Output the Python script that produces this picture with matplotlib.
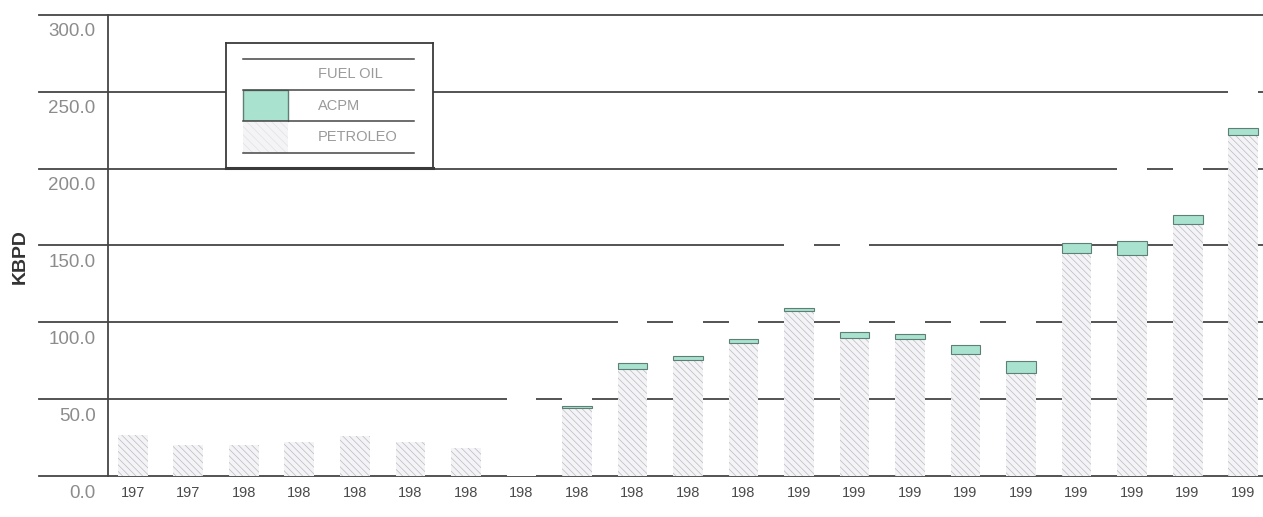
import numpy as np
import matplotlib
matplotlib.use("Agg")
import matplotlib.pyplot as plt
from matplotlib import transforms

plt.rcParams['font.family'] = ['Liberation Sans', 'DejaVu Sans']
plt.rcParams['hatch.linewidth'] = 0.5

# data (KBPD)
years = ['197', '197', '198', '198', '198', '198', '198', '198', '198', '198', '198',
         '198', '199', '199', '199', '199', '199', '199', '199', '199', '199']
petroleo = [27, 20, 20, 22, 26, 22, 18, 0, 44.3, 69.6, 75.5, 86.5, 107.4, 90.0,
            89.0, 79.4, 67.0, 145.1, 143.8, 164.0, 222.0]
acpm = [0, 0, 0, 0, 0, 0, 0, 0, 1.0, 3.9, 2.5, 2.5, 1.9, 3.7, 3.4, 5.8, 7.8,
        6.5, 9.1, 5.8, 4.5]
fuel_oil = [0, 0, 0, 0, 0, 0, 0, 60, 15, 40, 35, 30, 55, 65, 30, 30, 35, 15,
            60, 37, 30]
series_names = ['FUEL OIL', 'ACPM', 'PETROLEO']
yticks = [0, 50, 100, 150, 200, 250, 300]

PET_FACE = '#f4f4f6'
PET_HATCH = '#b9b9c3'
ACPM_FACE = '#a9e2cf'
ACPM_EDGE = '#5f7f76'
GRID = '#454545'

fig = plt.figure(figsize=(12.63, 5.17), dpi=100)
ax = fig.add_axes([108 / 1263, 41 / 517, 1155 / 1263, 461 / 517])

x = np.arange(len(years))
w = 0.54
pet = np.array(petroleo)
ac = np.array(acpm)

# gridlines, extending left past the axis like the original
for v in yticks:
    ax.plot([-0.06, 1.0], [v, v], transform=ax.get_yaxis_transform(),
            color=GRID, lw=1.3, clip_on=False, zorder=1)

ax.bar(x, petroleo, w, color=PET_FACE, edgecolor=PET_HATCH, hatch='\\\\\\\\\\',
       linewidth=0, zorder=2)
ax.bar(x, acpm, w, bottom=pet, color=ACPM_FACE, edgecolor=ACPM_EDGE,
       linewidth=np.where(ac > 0, 0.8, 0), zorder=3)
ax.bar(x, fuel_oil, w, bottom=pet + ac, color='white', linewidth=0, zorder=2)

ax.set_xlim(-0.45, 20.36)
ax.set_ylim(0, 300)
for s in ['top', 'right', 'bottom']:
    ax.spines[s].set_visible(False)
ax.spines['left'].set_color(GRID)
ax.spines['left'].set_linewidth(1.3)

ax.set_xticks(x)
ax.set_xticklabels(years, fontsize=10.5, color='#4a4a4a')
ax.tick_params(axis='x', length=0, pad=7)
ax.set_yticks(yticks)
ax.set_yticklabels([f'{v:.1f}' for v in yticks], fontsize=13.5, color='#8c8c8c')
ax.tick_params(axis='y', length=0, pad=9)
shift = transforms.ScaledTranslation(0, -0.15, fig.dpi_scale_trans)
for lab in ax.get_yticklabels():
    lab.set_transform(lab.get_transform() + shift)

fig.text(20 / 1263, 1 - 257 / 517, 'KBPD', rotation=90, fontsize=14,
         fontweight='bold', color='#333333', ha='center', va='center')

# legend box with rules between rows
lg = fig.add_axes([226 / 1263, (517 - 168) / 517, 207 / 1263, 125 / 517])
lg.set_xlim(0, 1)
lg.set_ylim(0, 1)
lg.set_xticks([])
lg.set_yticks([])
for s in lg.spines.values():
    s.set_color('#3a3a3a')
    s.set_linewidth(1.3)
lg.spines['bottom'].set_linewidth(2.2)
rules = [0.872, 0.624, 0.376, 0.12]
for r in rules:
    lg.plot([0.082, 0.908], [r, r], color=GRID, lw=1.1)
swatch = [dict(color='white', linewidth=0),
          dict(color=ACPM_FACE, edgecolor=ACPM_EDGE, linewidth=1.0),
          dict(color=PET_FACE, edgecolor='#e2e2e6', hatch='\\\\\\\\', linewidth=0)]
for i, name in enumerate(series_names):
    top, bot = rules[i], rules[i + 1]
    lg.bar(0.191, top - bot, 0.218, bottom=bot, **swatch[i])
    lg.text(0.444, (top + bot) / 2, name, fontsize=10.5, color='#9a9a9a',
            va='center', ha='left')

fig.savefig('out.png', dpi=100)
